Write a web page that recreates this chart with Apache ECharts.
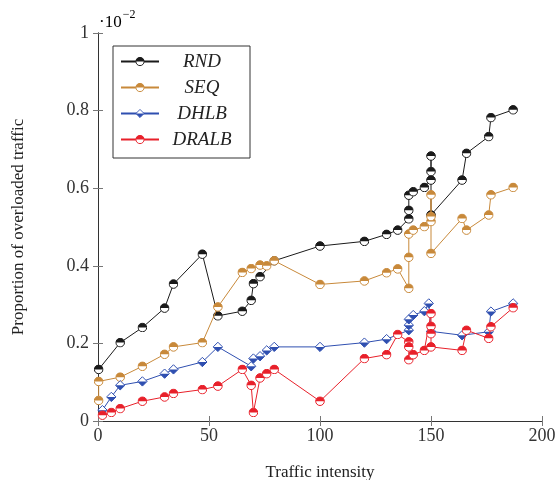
<!DOCTYPE html>
<html>
<head>
<meta charset="utf-8">
<script src="https://cdn.jsdelivr.net/npm/echarts@6/dist/echarts.min.js"></script>
<style>
  html, body { margin: 0; padding: 0; background: #fff; }
  #chart { width: 555px; height: 480px; }
</style>
</head>
<body>
<div id="chart"></div>
<script>
// values (y in units of 1e-2)
const rndX = [0.3, 10, 20, 30, 34, 47, 54, 65, 69, 70, 73, 79.4, 100, 120, 130, 135, 140, 140, 140, 142, 147, 150, 150, 150, 150, 164, 166, 176, 177, 187];
const rndY = [0.133, 0.202, 0.241, 0.291, 0.353, 0.43, 0.271, 0.283, 0.311, 0.354, 0.372, 0.413, 0.451, 0.463, 0.481, 0.492, 0.521, 0.543, 0.582, 0.591, 0.602, 0.621, 0.643, 0.683, 0.531, 0.621, 0.69, 0.733, 0.782, 0.802];

const seqX = [0.3, 0.3, 10, 20, 30, 34, 47, 54, 65, 69, 73, 76, 79.4, 100, 120, 130, 135, 140, 140, 140, 142, 147, 150, 150, 150, 150, 164, 166, 176, 177, 187];
const seqY = [0.053, 0.102, 0.113, 0.141, 0.172, 0.191, 0.202, 0.294, 0.383, 0.393, 0.402, 0.40, 0.413, 0.352, 0.361, 0.382, 0.392, 0.342, 0.422, 0.482, 0.492, 0.501, 0.514, 0.527, 0.583, 0.432, 0.522, 0.492, 0.531, 0.583, 0.602];

const dhlbX = [2, 6, 10, 20, 30, 34, 47, 54, 69, 70, 73, 76, 79.4, 100, 120, 130, 140, 140, 140, 142, 147, 149, 150, 164, 176, 177, 187];
const dhlbY = [0.028, 0.062, 0.092, 0.102, 0.122, 0.133, 0.152, 0.191, 0.141, 0.161, 0.167, 0.182, 0.191, 0.191, 0.202, 0.211, 0.234, 0.247, 0.262, 0.273, 0.283, 0.303, 0.231, 0.221, 0.23, 0.282, 0.303];

const dralbX = [2, 6, 10, 20, 30, 34, 47, 54, 65, 69, 70, 73, 76, 79.4, 100, 120, 130, 135, 140, 140, 140, 142, 147, 150, 150, 150, 150, 164, 166, 176, 177, 187];
const dralbY = [0.015, 0.022, 0.032, 0.051, 0.062, 0.071, 0.081, 0.09, 0.133, 0.092, 0.022, 0.111, 0.122, 0.133, 0.051, 0.161, 0.171, 0.223, 0.204, 0.191, 0.158, 0.171, 0.182, 0.277, 0.244, 0.225, 0.191, 0.182, 0.234, 0.213, 0.243, 0.292];

const xTicks = [0, 50, 100, 150, 200];
const yTickLabels = ['0', '0.2', '0.4', '0.6', '0.8', '1'];
const names = ['RND', 'SEQ', 'DHLB', 'DRALB'];
const colors = ['#1a1a1a', '#c8893a', '#2f4fb0', '#e8202a'];

const serif = '"Liberation Serif", "DejaVu Serif", serif';

function svgUri(svg) {
  return 'image://data:image/svg+xml;charset=utf-8,' + encodeURIComponent(svg);
}
// circle, top half filled
function halfCircle(c) {
  return svgUri('<svg xmlns="http://www.w3.org/2000/svg" width="20" height="20" viewBox="0 0 20 20">' +
    '<circle cx="10" cy="10" r="8.6" fill="#fff" stroke="' + c + '" stroke-width="2"/>' +
    '<path d="M1.4,10 A8.6,8.6 0 0 1 18.6,10 Z" fill="' + c + '"/></svg>');
}
// diamond, bottom half filled
function halfDiamond(c) {
  return svgUri('<svg xmlns="http://www.w3.org/2000/svg" width="20" height="20" viewBox="0 0 20 20">' +
    '<path d="M10,1.5 L18.5,10 L10,18.5 L1.5,10 Z" fill="#fff" stroke="' + c + '" stroke-width="1.8"/>' +
    '<path d="M1.5,10 L18.5,10 L10,18.5 Z" fill="' + c + '"/></svg>');
}

function pairs(xs, ys) {
  return xs.map((x, i) => [x, ys[i]]);
}

const seriesData = [pairs(rndX, rndY), pairs(seqX, seqY), pairs(dhlbX, dhlbY), pairs(dralbX, dralbY)];

const chart = echarts.init(document.getElementById('chart'));

const axisLine = {show: true, lineStyle: {color: '#333', width: 1}};
const axisTick = {show: true, inside: true, length: 5, lineStyle: {color: '#777'}};

chart.setOption({
  animation: false,
  grid: {left: 98, right: 13, top: 33, bottom: 59, outerBoundsMode: 'none', containLabel: false},
  legend: {
    orient: 'vertical',
    left: 113,
    top: 46,
    padding: [6, 10, 9, 7],
    itemWidth: 38,
    itemHeight: 12,
    itemGap: 7,
    borderColor: '#333',
    borderWidth: 1,
    backgroundColor: '#fff',
    data: names,
    formatter: n => '{c|' + n + '}',
    textStyle: {
      rich: {
        c: {width: 76, align: 'center', fontFamily: serif, fontStyle: 'italic', fontSize: 19, color: '#222', lineHeight: 19}
      }
    }
  },
  xAxis: [
    {
      type: 'value', min: 0, max: 200, interval: 50,
      name: 'Traffic intensity', nameLocation: 'middle', nameGap: 43,
      nameTextStyle: {fontFamily: serif, fontSize: 17, color: '#222'},
      axisLine, axisTick, splitLine: {show: false},
      axisLabel: {fontFamily: serif, fontSize: 18, color: '#333', margin: 6,
        formatter: v => xTicks.includes(v) ? String(v) : ''}
    },
    {
      type: 'value', position: 'top', min: 0, max: 200, interval: 50,
      axisLine, axisTick, splitLine: {show: false}, axisLabel: {show: false}
    }
  ],
  yAxis: [
    {
      type: 'value', min: 0, max: 1, interval: 0.2,
      name: 'Proportion of overloaded traffic', nameLocation: 'middle', nameGap: 71,
      nameTextStyle: {fontFamily: serif, fontSize: 17, color: '#222'},
      axisLine, axisTick, splitLine: {show: false},
      axisLabel: {fontFamily: serif, fontSize: 18, color: '#333', margin: 9,
        formatter: v => yTickLabels[Math.round(v * 5)]}
    },
    {
      type: 'value', position: 'right', min: 0, max: 1, interval: 0.2,
      axisLine, axisTick, splitLine: {show: false}, axisLabel: {show: false}
    }
  ],
  graphic: [{
    type: 'text',
    left: 99,
    top: 9,
    style: {
      text: '{a|·10}{b|−2}',
      rich: {
        a: {fontFamily: serif, fontSize: 17, color: '#333', verticalAlign: 'bottom', lineHeight: 22},
        b: {fontFamily: serif, fontSize: 12, color: '#333', verticalAlign: 'top', lineHeight: 22, padding: [0, 0, 6, 1]}
      }
    }
  }],
  series: names.map((n, i) => ({
    name: n,
    type: 'line',
    data: seriesData[i],
    symbol: i === 2 ? halfDiamond(colors[i]) : halfCircle(colors[i]),
    symbolSize: i === 2 ? 11 : 10,
    lineStyle: {color: colors[i], width: 1},
    itemStyle: {color: colors[i]},
    z: 2 + i
  }))
});
</script>
</body>
</html>
